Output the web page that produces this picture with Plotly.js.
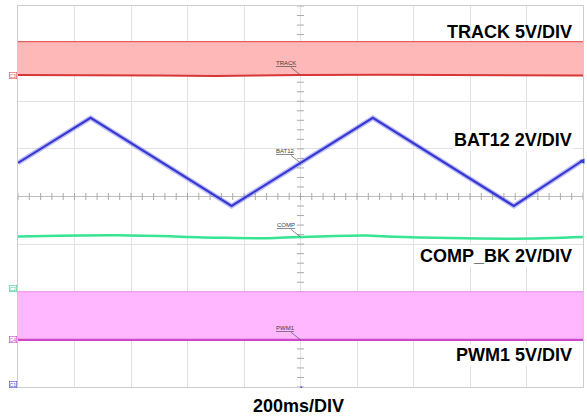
<!DOCTYPE html>
<html>
<head>
<meta charset="utf-8">
<script src="https://cdn.plot.ly/plotly-3.0.1.min.js"></script>
<style>html,body{margin:0;padding:0;background:#fff;}#chart{width:587px;height:418px;}</style>
</head>
<body>
<div id="chart"></div>
<script>
// ---- data (time in ms, values in volts) ----
const channelNames = ["TRACK", "BAT12", "COMP", "PWM1"];
const channelLabels = ["TRACK 5V/DIV", "BAT12 2V/DIV", "COMP_BK 2V/DIV", "PWM1 5V/DIV"];
const voltsPerDiv = [5, 2, 2, 5];
const groundDiv = [2.55, -3.94, -1.94, -3.01];   // ground reference level in screen divisions
const timeLabel = "200ms/DIV";
const msPerDiv = 200;

const trackTime = [0, 250, 500, 700, 1000, 1300, 1600, 2000];
const trackLow  = [0.0, 0.0, -0.05, -0.1, 0.0, 0.02, 0.0, -0.05];
const trackHigh = [3.5, 3.5, 3.48, 3.5, 3.52, 3.5, 3.48, 3.5];

const bat12Time = [0, 257, 756, 1256, 1755, 2000];
const bat12Volt = [9.29, 11.18, 7.48, 11.18, 7.48, 9.4];

const compTime = [0, 354, 708, 880, 998, 1235, 1306, 1756, 2000];
const compVolt = [2.20, 2.25, 2.15, 2.13, 2.18, 2.24, 2.20, 2.11, 2.18];

const pwmTime = [0, 500, 1000, 1500, 2000];
const pwmLow  = [0.0, 0.0, 0.0, 0.0, 0.0];
const pwmHigh = [5.05, 5.05, 5.05, 5.05, 5.05];

// ---- build ----
const NDIVX = 10, NDIVY = 8;
function chanRange(i) {
  return [(-NDIVY / 2 - groundDiv[i]) * voltsPerDiv[i], (NDIVY / 2 - groundDiv[i]) * voltsPerDiv[i]];
}
const axNames = ["y2", "y3", "y4", "y5"];

const traces = [];
// TRACK band
traces.push({x: trackTime, y: trackLow, yaxis: "y2", mode: "lines", line: {color: "rgb(215,55,55)", width: 2}, hoverinfo: "skip"});
traces.push({x: trackTime, y: trackHigh, yaxis: "y2", mode: "lines", line: {color: "rgb(230,95,95)", width: 1.2},
  fill: "tonexty", fillcolor: "rgb(255,184,184)", hoverinfo: "skip"});
// PWM band
traces.push({x: pwmTime, y: pwmLow, yaxis: "y5", mode: "lines", line: {color: "rgb(205,70,205)", width: 2.2}, hoverinfo: "skip"});
traces.push({x: pwmTime, y: pwmHigh, yaxis: "y5", mode: "lines", line: {color: "rgb(240,140,240)", width: 1},
  fill: "tonexty", fillcolor: "rgb(255,184,255)", hoverinfo: "skip"});
// COMP
traces.push({x: compTime, y: compVolt, yaxis: "y4", mode: "lines", line: {color: "rgb(55,228,145)", width: 2.5, shape: "spline"}, hoverinfo: "skip"});
// BAT12 (glow + core)
traces.push({x: bat12Time, y: bat12Volt, yaxis: "y3", mode: "lines", line: {color: "rgba(110,110,240,0.45)", width: 5}, hoverinfo: "skip"});
traces.push({x: bat12Time, y: bat12Volt, yaxis: "y3", mode: "lines", line: {color: "rgb(55,55,210)", width: 2.2}, hoverinfo: "skip"});

// centre-cross minor ticks (graticule decoration)
const tx = [], ty = [];
for (let k = 0; k <= NDIVX * 5; k++) { tx.push(k * msPerDiv / 5); ty.push(0); }
traces.push({x: tx, y: ty, mode: "markers", marker: {symbol: "line-ns", size: 5, line: {color: "rgb(170,170,170)", width: 1}}, hoverinfo: "skip"});
const vx = [], vy = [];
for (let k = 0; k <= NDIVY * 5; k++) { vx.push(NDIVX * msPerDiv / 2); vy.push(-NDIVY / 2 + k / 5); }
traces.push({x: vx, y: vy, mode: "markers", marker: {symbol: "line-ew", size: 5, line: {color: "rgb(170,170,170)", width: 1}}, hoverinfo: "skip"});

const layout = {
  width: 587, height: 418,
  margin: {l: 18, r: 4, t: 6, b: 31},
  paper_bgcolor: "#fff", plot_bgcolor: "#fff",
  showlegend: false,
  font: {family: "Liberation Sans, Arial, sans-serif"},
  xaxis: {range: [0, NDIVX * msPerDiv], dtick: msPerDiv, showticklabels: false, ticks: "",
    showgrid: true, gridcolor: "rgb(226,226,226)", gridwidth: 1, zeroline: false,
    showline: true, linecolor: "rgb(205,205,205)", mirror: true, fixedrange: true},
  yaxis: {range: [-NDIVY / 2, NDIVY / 2], dtick: 1, showticklabels: false, ticks: "",
    showgrid: true, gridcolor: "rgb(226,226,226)", gridwidth: 1, zeroline: true, zerolinecolor: "rgb(190,190,190)", zerolinewidth: 1,
    showline: true, linecolor: "rgb(205,205,205)", mirror: true, fixedrange: true},
  shapes: [
    {type: "line", xref: "paper", yref: "paper", x0: 0.5, x1: 0.5, y0: 0, y1: 1, line: {color: "rgb(190,190,190)", width: 1}, layer: "below"}
  ],
  annotations: []
};
axNames.forEach((a, i) => {
  layout["yaxis" + a.slice(1)] = {overlaying: "y", range: chanRange(i), visible: false, fixedrange: true};
});

// big channel labels
const labelY = [0.932, 0.649, 0.343, 0.085];
const labelBg = ["rgba(0,0,0,0)", "#fff", "#fff", "#fff"];
channelLabels.forEach((t, i) => {
  layout.annotations.push({xref: "paper", yref: "paper", x: 0.982, y: labelY[i], xanchor: "right", yanchor: "middle",
    text: t, showarrow: false, bgcolor: labelBg[i], borderpad: 0,
    font: {size: 18, color: "#000", family: "Liberation Sans, Arial, sans-serif", weight: "bold"}});
});
layout.annotations.push({xref: "paper", yref: "paper", x: 0.496, y: -0.051, xanchor: "center", yanchor: "middle",
  text: timeLabel, showarrow: false,
  font: {size: 18, color: "#000", family: "Liberation Sans, Arial, sans-serif", weight: "bold"}});

// small scope trace labels with leader lines at the centre line
const tagVolt = [trackLow[4], bat12Volt[2] + (bat12Volt[3] - bat12Volt[2]) * (1000 - bat12Time[2]) / (bat12Time[3] - bat12Time[2]), compVolt[4], pwmLow[2]];
channelNames.forEach((n, i) => {
  layout.annotations.push({x: NDIVX * msPerDiv / 2, y: tagVolt[i], xref: "x", yref: axNames[i],
    text: "<u>" + n + "</u>", showarrow: true, arrowhead: 0, arrowwidth: 0.7, arrowcolor: "rgb(80,80,80)",
    ax: -15, ay: -12, font: {size: 6, color: "rgb(60,60,60)", family: "Liberation Sans, Arial, sans-serif"}});
});

// ground markers on the left edge
const gndTags = ["C3", "C1", "C2", "C4"];
const gndCols = ["rgb(220,80,80)", "rgb(70,70,200)", "rgb(60,200,140)", "rgb(200,70,200)"];
gndTags.forEach((g, i) => {
  layout.annotations.push({xref: "paper", x: 0, xanchor: "right", xshift: -1, yref: axNames[i], y: 0, yanchor: "middle",
    text: g, showarrow: false, bordercolor: gndCols[i], borderwidth: 0.6, borderpad: 0,
    font: {size: 5, color: gndCols[i]}});
});
// right-edge marker of BAT12
layout.annotations.push({xref: "paper", x: 1, xanchor: "right", yref: "y3", y: bat12Volt[5], yanchor: "middle",
  text: "◀", showarrow: false, font: {size: 7, color: "rgb(55,55,210)"}, xshift: 4});
// trigger position marker at bottom centre
layout.annotations.push({xref: "paper", x: 0.5, xanchor: "center", yref: "paper", y: 0, yanchor: "middle",
  text: "▪", showarrow: false, font: {size: 6, color: "rgb(55,55,210)"}});

Plotly.newPlot("chart", traces, layout, {displayModeBar: false, staticPlot: true});
</script>
</body>
</html>
